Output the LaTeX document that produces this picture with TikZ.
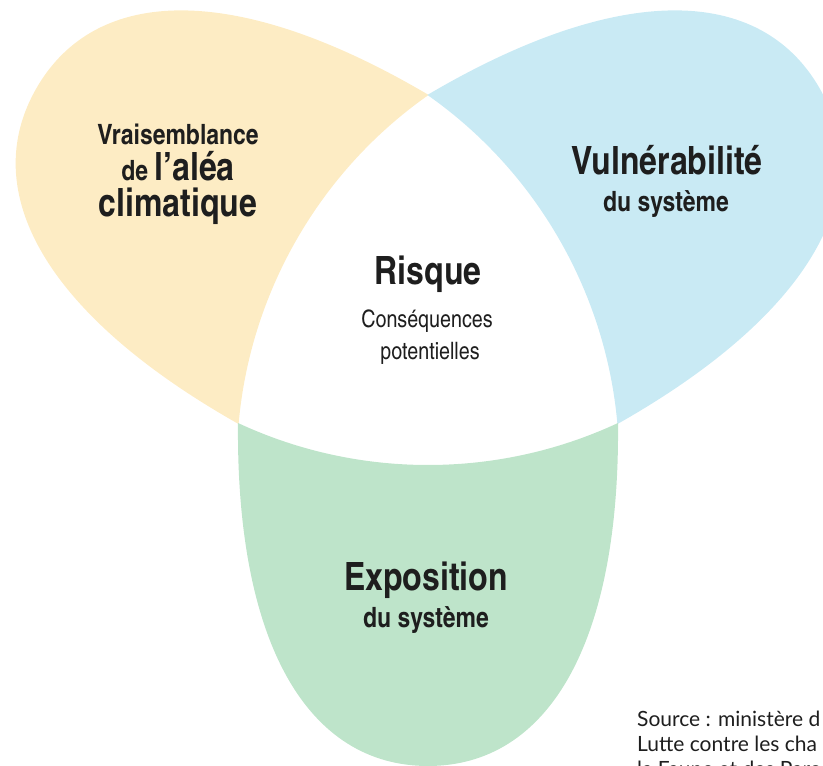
\documentclass[tikz,border=0pt]{standalone}
\usepackage{fontspec}
\setmainfont{Lato}
\newfontfamily\heroscn{texgyreheroscn}[Extension=.otf,UprightFont=*-regular,BoldFont=*-bold]
\definecolor{alea}{HTML}{FDECC4}
\definecolor{vuln}{HTML}{C9EAF4}
\definecolor{expo}{HTML}{BEE4CA}
\definecolor{ink}{HTML}{1E1E1E}

\begin{document}
\begin{tikzpicture}[x=1pt,y=1pt,
    big/.style={font=\heroscn\bfseries\fontsize{39}{39}\selectfont,text=ink,anchor=base,inner sep=0pt},
    small/.style={font=\heroscn\bfseries\fontsize{28}{28}\selectfont,text=ink,anchor=base,inner sep=0pt},
    light/.style={font=\heroscn\fontsize{24}{24}\selectfont,text=ink,anchor=base,inner sep=0pt},
    source/.style={font=\fontsize{21}{21}\selectfont,text=ink,anchor=base west,inner sep=0pt}]
    \useasboundingbox (0,0) rectangle (823,766);
    % the three petals, one shape turned round the centre
    \foreach \col/\ang in {alea/-120,vuln/120,expo/0}
        \fill[\col,shift={(428,452)},rotate=\ang]
            (-190,-109) .. controls (-192,-330) and (-120,-452) .. (0,-452)
            .. controls (120,-452) and (192,-330) .. (190,-109)
            .. controls (70,-165) and (-70,-165) .. cycle;
    % labels
    \draw (178,621) node[small] (vraisemblance) {Vraisemblance};
    \draw (178,585) node[big] (alea)
        {{\fontsize{28}{28}\selectfont de\ }l’aléa};
    \draw (178,549) node[big] (climatique) {climatique};
    \draw (667,591) node[big] (vulnerabilite) {Vulnérabilité};
    \draw (666,554) node[small] (vulnsys) {du système};
    \draw (428,481) node[big] (risque) {Risque};
    \draw (427,438) node[light] (consequences) {Conséquences};
    \draw (430,406) node[light] (potentielles) {potentielles};
    \draw (426,175) node[big] (exposition) {Exposition};
    \draw (426,138) node[small] (exposys) {du système};
    \draw (637,39) node[source] (src1) {Source : ministère d};
    \draw (637,14) node[source] (src2) {Lutte contre les cha};
    \draw (637,-11) node[source] (src3) {la Faune et des Parc};
\end{tikzpicture}
\end{document}
